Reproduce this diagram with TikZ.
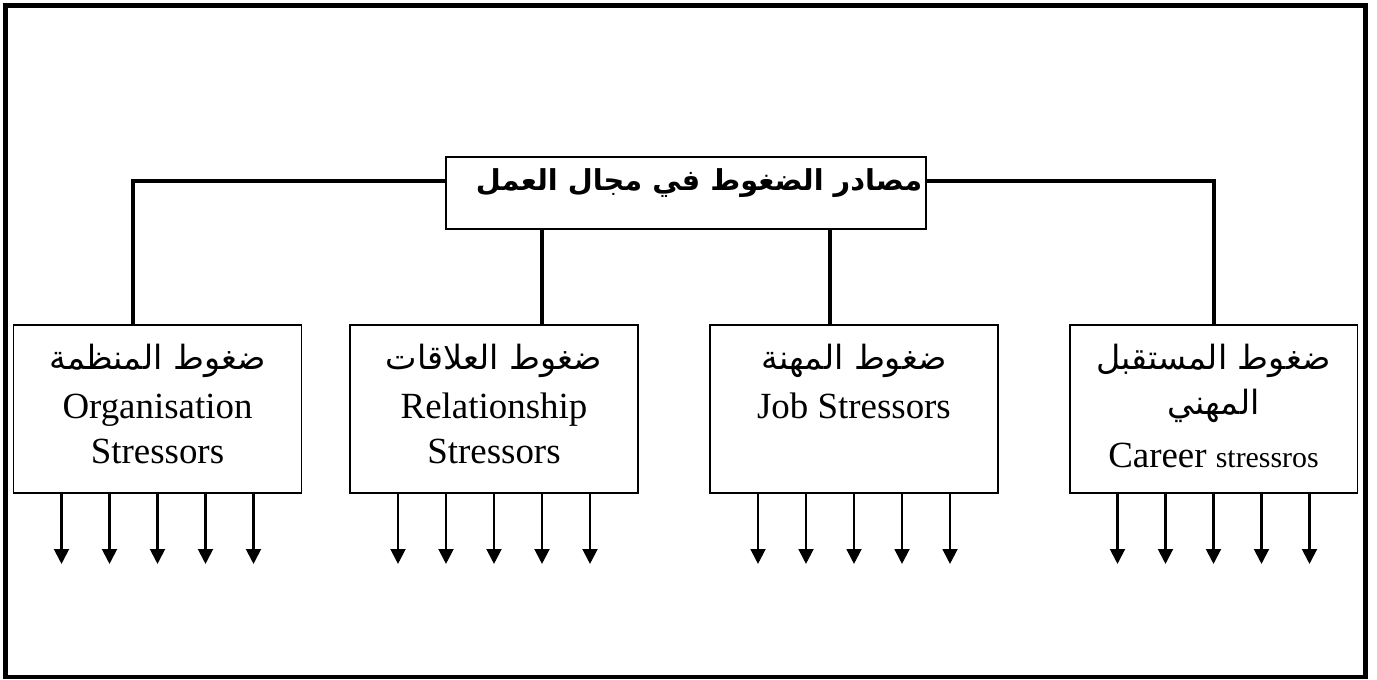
\documentclass[tikz,border=0pt]{standalone}
\usepackage{fontspec}
\setmainfont{Liberation Serif}
\newfontfamily\arabicfont[Script=Arabic]{DejaVu Sans}
\TeXXeTstate=1
\usetikzlibrary{arrows.meta}

\newcommand\stresslabel[1]{\parbox[t]{5.6cm}{\centering #1}}
\newcommand\arlabel[1]{{\arabicfont\fontsize{19}{26}\selectfont\beginR #1\endR}}

\begin{document}
\begin{tikzpicture}[x=0.02cm, y=-0.02cm,
    frame/.style={line width=2.8pt},
    topbox/.style={draw, line width=1.1pt, minimum width=9.6cm, minimum height=1.44cm, inner sep=0pt},
    stressbox/.style={draw, line width=1.1pt, minimum width=5.76cm, minimum height=3.36cm, inner sep=0pt,
        text height=0.88cm, text depth=2.48cm, font=\fontsize{21}{26}\selectfont},
    link/.style={line width=2.2pt},
    stressarrow/.style={line width=1.2pt, -{Triangle[width=8.5pt,length=8.5pt]}}]
    \useasboundingbox (0,0) rectangle (1377,680);
    \draw [frame] (5.5,5.5) rectangle (1365.5,677);

    \node [topbox] (src) at (686,193)
        {\hspace*{0.52cm}\raisebox{1.5pt}[0pt][0pt]{\arabicfont\bfseries\fontsize{16.4}{20}\selectfont\beginR مصادر الضغوط في مجال العمل\endR}};

    \node [stressbox] (org) at (157.5,409)
        {\stresslabel{\arlabel{ضغوط المنظمة}\\[2pt]Organisation\\Stressors}};
    \node [stressbox] (rel) at (494,409)
        {\stresslabel{\arlabel{ضغوط العلاقات}\\[2pt]Relationship\\Stressors}};
    \node [stressbox] (job) at (854,409)
        {\stresslabel{\arlabel{ضغوط المهنة}\\[2pt]Job Stressors}};
    \node [stressbox] (car) at (1213.5,409)
        {\stresslabel{\arlabel{ضغوط المستقبل}\\\arlabel{المهني}\\[4pt]Career {\fontsize{17}{26}\selectfont stressros}}};

    \coordinate (elbowL) at (133,181);
    \coordinate (elbowR) at (1214,181);
    \coordinate (relx) at (542,0);
    \coordinate (jobx) at (830,0);
    \draw [link] (src.west |- elbowL) -- (elbowL) -- (elbowL |- org.north);
    \draw [link] (src.east |- elbowR) -- (elbowR) -- (elbowR |- car.north);
    \draw [link] (src.south -| relx) -- (rel.north -| relx);
    \draw [link] (src.south -| jobx) -- (job.north -| jobx);

    \foreach \b in {org,rel,job,car}
        \foreach \dx in {-96,-48,0,48,96}
            \draw [stressarrow] ([xshift=\dx*0.02cm]\b.south) -- ++(0,70);
\end{tikzpicture}
\end{document}
